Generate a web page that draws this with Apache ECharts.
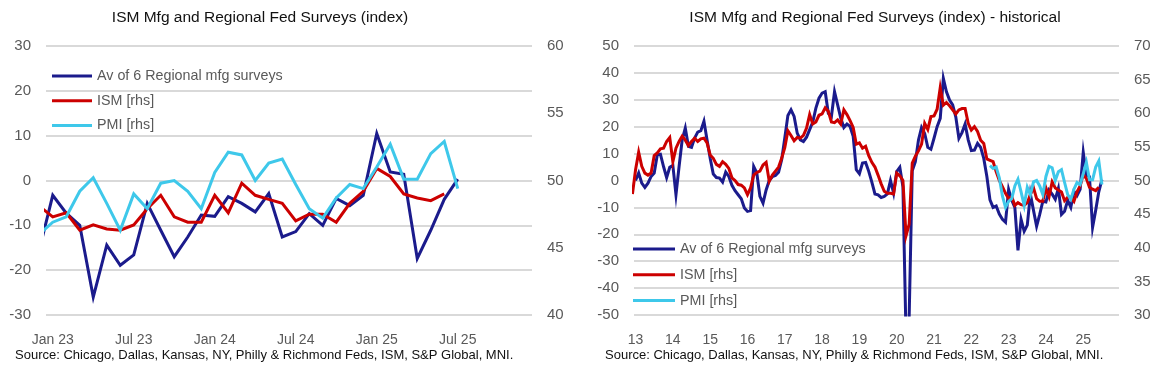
<!DOCTYPE html>
<html>
<head>
<meta charset="utf-8">
<script src="https://cdn.jsdelivr.net/npm/echarts@6/dist/echarts.min.js"></script>
<style>
html,body{margin:0;padding:0;background:#ffffff;}
#chart{width:1155px;height:371px;}
</style>
</head>
<body>
<div id="chart"></div>
<script>
// ---- month index: 0 = Jan 2013 ----
const seriesNames = ['Av of 6 Regional mfg surveys', 'ISM [rhs]', 'PMI [rhs]'];

// Average of 6 regional Fed manufacturing surveys, Jan 2013 .. Jul 2025
const regionalStart = 0;
const regional = [
  0.0, 2.8, -1.0, -2.6, -1.0, 1.5, 2.8, 9.6, 9.8, 5.2, 1.1, 4.9,
  5.6, -5.3, 5.2, 15.1, 19.5, 12.7, 12.3, 15.8, 18.0, 18.5, 22.0, 15.1,
  8.3, 2.4, 1.1, 0.9, -0.6, 3.1, 1.5, -1.8, -3.8, -5.3, -6.8, -10.2,
  -11.5, -11.2, 5.2, 2.8, -5.9, -8.4, -3.5, 0.0, 1.4, 1.9, 3.1, 7.7,
  15.8, 24.2, 26.3, 23.8, 17.6, 15.1, 14.5, 16.1, 18.9, 21.7, 26.9, 30.6,
  32.5, 33.0, 25.0, 23.8, 33.0, 28.1, 23.2, 19.7, 21.0, 20.1, 16.4, 4.0,
  2.5, 6.5, 6.7, 3.4, -0.6, -5.0, -5.3, -6.3, -5.9, -5.0, 0.0, -4.7,
  3.3, 4.9, -2.3, -58.0, -51.0, 3.6, 7.0, 15.0, 19.7, 17.5, 12.3, 11.6,
  15.7, 20.0, 23.1, 38.0, 33.0, 29.9, 28.1, 23.7, 15.7, 17.8, 21.0, 15.1,
  11.1, 11.3, 13.8, 12.3, 8.2, 1.5, -7.2, -10.0, -9.5, -12.5, -14.4, -15.5,
  -3.3, -7.3, -10.0, -26.0, -14.4, -18.9, -16.6, -5.1, -11.1, -17.0, -12.6, -7.7,
  -8.0, -3.6, -5.1, -7.0, -2.9, -12.6, -11.4, -7.4, -10.0, -4.0, -5.6, -3.3,
  10.5, 1.9, 1.4, -17.4, -11.1, -4.2, 0.3
];

// ISM manufacturing PMI, Dec 2012 .. Jun 2025
const ismStart = -1;
const ism = [
  48.0,
  51.6, 54.2, 52.1, 51.1, 50.8, 51.1, 53.7, 54.1, 54.7, 54.8, 55.8, 56.4,
  52.8, 54.8, 55.8, 56.6, 56.0, 55.2, 55.8, 56.3, 55.8, 56.2, 56.3, 55.6,
  53.8, 53.3, 52.4, 52.1, 52.8, 52.4, 51.8, 50.4, 50.0, 49.4, 49.3, 48.9,
  47.9, 48.9, 50.8, 51.2, 51.4, 52.3, 52.7, 49.9, 50.8, 51.4, 52.0, 53.3,
  54.9, 57.4, 56.7, 55.9, 56.4, 56.3, 56.7, 57.8, 59.8, 58.4, 58.7, 59.7,
  59.9, 60.8, 60.3, 58.7, 58.6, 59.0, 58.4, 60.5, 59.8, 58.9, 57.9, 55.4,
  55.6, 54.8, 55.1, 53.7, 52.7, 52.0, 50.8, 49.5, 48.4, 48.1, 48.1, 48.0,
  51.1, 50.7, 50.0, 41.8, 43.5, 52.6, 53.6, 54.4, 55.4, 58.5, 57.6, 59.5,
  59.6, 60.6, 63.8, 61.2, 61.6, 61.1, 60.5, 59.9, 60.5, 60.7, 60.7, 58.5,
  57.5, 58.0, 57.3, 56.0, 55.5, 53.2, 53.0, 52.8, 51.3, 50.0, 49.1, 48.1,
  47.3, 47.6, 46.3, 46.7, 46.4, 46.3, 46.7, 47.9, 48.9, 47.3, 46.9, 46.9,
  48.9, 47.6, 49.8, 48.9, 48.6, 48.3, 47.0, 47.5, 47.5, 46.9, 48.3, 49.2,
  50.9, 50.3, 49.0, 48.7, 48.5, 49.0
];

// S&P Global US manufacturing PMI, Jul 2022 .. Jul 2025
const pmiStart = 114;
const pmi = [
  52.2, 51.8, 52.0, 50.4, 47.7, 46.0,
  46.9, 47.3, 49.2, 50.2, 48.3, 46.3, 49.0, 47.9, 49.8, 50.0, 49.2, 47.9,
  50.6, 52.1, 51.9, 50.0, 51.3, 51.6, 49.7, 47.9, 47.2, 48.7, 49.7, 49.4,
  51.0, 52.7, 50.1, 50.1, 52.0, 52.9, 49.4
];

// recent panel: month 0 = Jan 2023, first (partly visible) month = Dec 2022
const recentOrigin = 120;
const recentFirst = 119;
const recentTickPos = [0, 6, 12, 18, 24, 30];
const recentTickLabels = ['Jan 23', 'Jul 23', 'Jan 24', 'Jul 24', 'Jan 25', 'Jul 25'];
const histTickPos = [0, 12, 24, 36, 48, 60, 72, 84, 96, 108, 120, 132, 144];
const histTickLabels = ['13', '14', '15', '16', '17', '18', '19', '20', '21', '22', '23', '24', '25'];

const titleLeft = 'ISM Mfg and Regional Fed Surveys (index)';
const titleRight = 'ISM Mfg and Regional Fed Surveys (index) - historical';
const sourceText = 'Source: Chicago, Dallas, Kansas, NY, Philly & Richmond Feds, ISM, S&P Global, MNI.';

function toPairs(values, start, origin, from) {
  const out = [];
  values.forEach(function (v, i) {
    const m = start + i;
    if (m >= from) out.push([m - origin, v]);
  });
  return out;
}

const COLORS = ['#1b1b8c', '#cc0000', '#3ec8ea'];
const FONT = 'Liberation Sans, Arial, sans-serif';
const gridLine = { show: true, lineStyle: { color: '#d9d9d9', width: 2 } };
const tickLabel = { color: '#595959', fontSize: 15, fontFamily: FONT, margin: 15 };

function xAxisDef(gridIndex, min, max, pos, labels) {
  return {
    type: 'value', gridIndex: gridIndex, min: min, max: max,
    axisLine: { show: false }, axisTick: { show: false }, splitLine: { show: false },
    axisLabel: {
      customValues: pos, color: '#595959', fontSize: 14, fontFamily: FONT, margin: 18,
      formatter: function (v) { const k = pos.indexOf(v); return k >= 0 ? labels[k] : ''; }
    }
  };
}
function yAxisDef(gridIndex, position, min, max, interval, split) {
  return {
    type: 'value', gridIndex: gridIndex, position: position, min: min, max: max, interval: interval,
    axisLine: { show: false }, axisTick: { show: false },
    splitLine: split ? gridLine : { show: false },
    axisLabel: tickLabel
  };
}
function lineSeries(name, k, xi, yi, data) {
  return {
    name: name, type: 'line', xAxisIndex: xi, yAxisIndex: yi, data: data,
    showSymbol: false, symbol: 'none', clip: true, smooth: false,
    lineStyle: { color: COLORS[k], width: 3, join: 'miter' },
    itemStyle: { color: COLORS[k] }
  };
}

const chart = echarts.init(document.getElementById('chart'), null, { renderer: 'canvas' });
chart.setOption({
  animation: false,
  backgroundColor: '#ffffff',
  grid: [
    { left: 46, top: 46, width: 486, height: 269 },
    { left: 634, top: 46, width: 485, height: 269 }
  ],
  xAxis: [
    xAxisDef(0, -0.5, 35.5, recentTickPos, recentTickLabels),
    xAxisDef(1, -0.5, 155.5, histTickPos, histTickLabels)
  ],
  yAxis: [
    yAxisDef(0, 'left', -30, 30, 10, true),
    yAxisDef(0, 'right', 40, 60, 5, false),
    yAxisDef(1, 'left', -50, 50, 10, true),
    yAxisDef(1, 'right', 30, 70, 5, false)
  ],
  legend: [
    {
      data: seriesNames, orient: 'vertical', left: 52, top: 67, padding: 0,
      icon: 'rect', itemWidth: 40, itemHeight: 3, itemGap: 6.7,
      textStyle: { color: '#595959', fontSize: 14.3, fontFamily: FONT, lineHeight: 18 }
    },
    {
      data: seriesNames, orient: 'vertical', left: 633, top: 240, padding: 0,
      icon: 'rect', itemWidth: 42, itemHeight: 3, itemGap: 7.8,
      textStyle: { color: '#595959', fontSize: 14.3, fontFamily: FONT, lineHeight: 18 }
    }
  ],
  graphic: [
    { type: 'text', x: 260, y: 18, style: { text: titleLeft, fill: '#111111', font: '15.5px ' + FONT, textAlign: 'center', textVerticalAlign: 'middle' } },
    { type: 'text', x: 875, y: 18, style: { text: titleRight, fill: '#111111', font: '15.5px ' + FONT, textAlign: 'center', textVerticalAlign: 'middle' } },
    { type: 'text', x: 15, y: 355, style: { text: sourceText, fill: '#111111', font: '13px ' + FONT, textAlign: 'left', textVerticalAlign: 'middle' } },
    { type: 'text', x: 605, y: 355, style: { text: sourceText, fill: '#111111', font: '13px ' + FONT, textAlign: 'left', textVerticalAlign: 'middle' } }
  ],
  series: [
    lineSeries(seriesNames[0], 0, 0, 0, toPairs(regional, regionalStart, recentOrigin, recentFirst)),
    lineSeries(seriesNames[1], 1, 0, 1, toPairs(ism, ismStart, recentOrigin, recentFirst)),
    lineSeries(seriesNames[2], 2, 0, 1, toPairs(pmi, pmiStart, recentOrigin, recentFirst)),
    lineSeries(seriesNames[0], 0, 1, 2, toPairs(regional, regionalStart, 0, -10)),
    lineSeries(seriesNames[1], 1, 1, 3, toPairs(ism, ismStart, 0, -10)),
    lineSeries(seriesNames[2], 2, 1, 3, toPairs(pmi, pmiStart, 0, -10))
  ]
});
</script>
</body>
</html>
